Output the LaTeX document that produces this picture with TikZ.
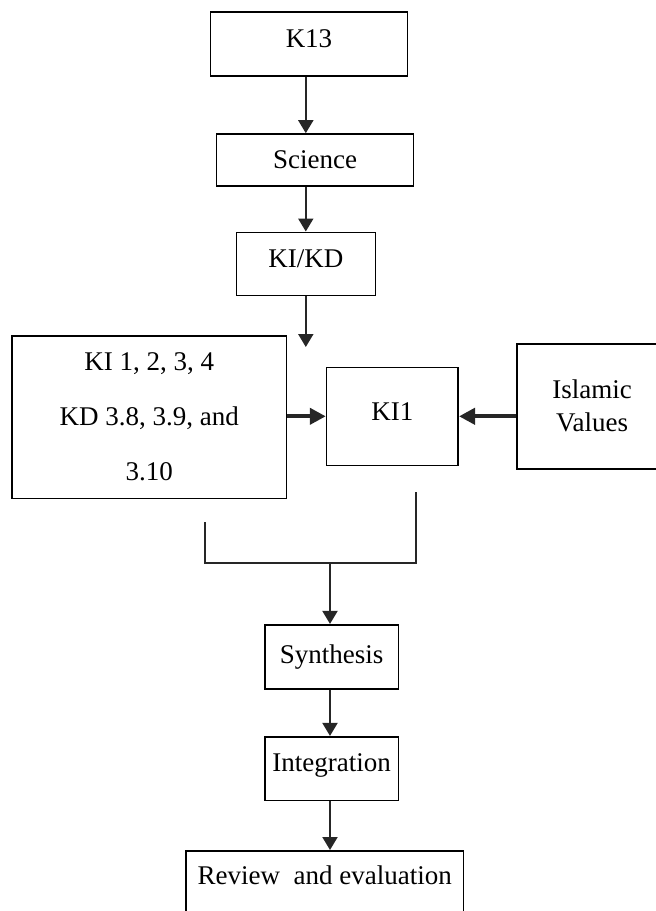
\documentclass[tikz,border=0pt]{standalone}
\usepackage{fontspec}
\setmainfont{Liberation Serif}
\usepackage{tikz}
\usetikzlibrary{arrows.meta}

\begin{document}
\begin{tikzpicture}[
	x=0.5pt, y=-0.5pt,
	every node/.style={draw, line width=0.8pt, align=center, inner sep=2pt, font=\fontsize{13.5}{16}\selectfont},
	flowbox/.style={minimum width=#1},
	arrowline/.style={line width=1pt, draw=black!85, -{Triangle[width=7.5pt, length=6.5pt]}},
	thickarrow/.style={line width=2pt, draw=black!85, -{Triangle[width=8pt, length=8pt]}}
	]
	
	\useasboundingbox (0,0) rectangle (655,911);
	
	% Nodes
	\node[flowbox=98.5pt, minimum height=32pt, text depth=5pt] (k13) at (309,44) {K13};
	\node[flowbox=98.5pt, minimum height=26pt] (science) at (315,160) {Science};
	\node[flowbox=69.5pt, minimum height=31.5pt, text depth=5pt] (kikd) at (305.8,263.8) {KI/KD};
	
	\node[flowbox=137.2pt, minimum height=81.3pt, font=\fontsize{13.5}{27.5}\selectfont] (kilist) at (149.3,417)
		{KI 1, 2, 3, 4\\KD 3.8, 3.9, and\\3.10};
	\node[flowbox=65.8pt, minimum height=49pt, text depth=5pt] (ki1) at (392.4,416.3) {KI1};
	\node[flowbox=75pt, minimum height=62.5pt, font=\fontsize{13.5}{16.5}\selectfont] (islamic) at (592,406.2)
		{Islamic\\Values};
	
	\node[flowbox=66.7pt, minimum height=32pt] (synthesis) at (331.7,656.7) {Synthesis};
	\node[flowbox=66.7pt, minimum height=31.8pt, text depth=6pt] (integration) at (331.7,768.5) {Integration};
	\node[flowbox=138.6pt, minimum height=36pt, text depth=12pt, anchor=north] (review) at (324.7,850)
		{Review\ \ and evaluation};
	
	% Bracket joining the two branches
	\coordinate (kidown) at (305.8,347);
	\coordinate (leftend) at (205,522);
	\coordinate (rightend) at (415.6,492);
	\coordinate (joint) at (330,563);
	
	% Arrows
	\draw[arrowline] (k13.south -| kikd) -- (science.north -| kikd);
	\draw[arrowline] (science.south -| kikd) -- (kikd.north);
	\draw[arrowline] (kikd.south) -- (kidown);
	
	\draw[thickarrow] (kilist.east |- ki1.west) -- (ki1.west);
	\draw[thickarrow] (islamic.west |- ki1.east) -- (ki1.east);
	
	\draw[line width=1pt, draw=black!85] (leftend) -- (leftend |- joint) -- (rightend |- joint) -- (rightend);
	\draw[arrowline] (joint) -- (joint |- synthesis.north);
	
	\draw[arrowline] (synthesis.south -| joint) -- (integration.north -| joint);
	\draw[arrowline] (integration.south -| joint) -- (review.north -| joint);
	
\end{tikzpicture}
\end{document}
